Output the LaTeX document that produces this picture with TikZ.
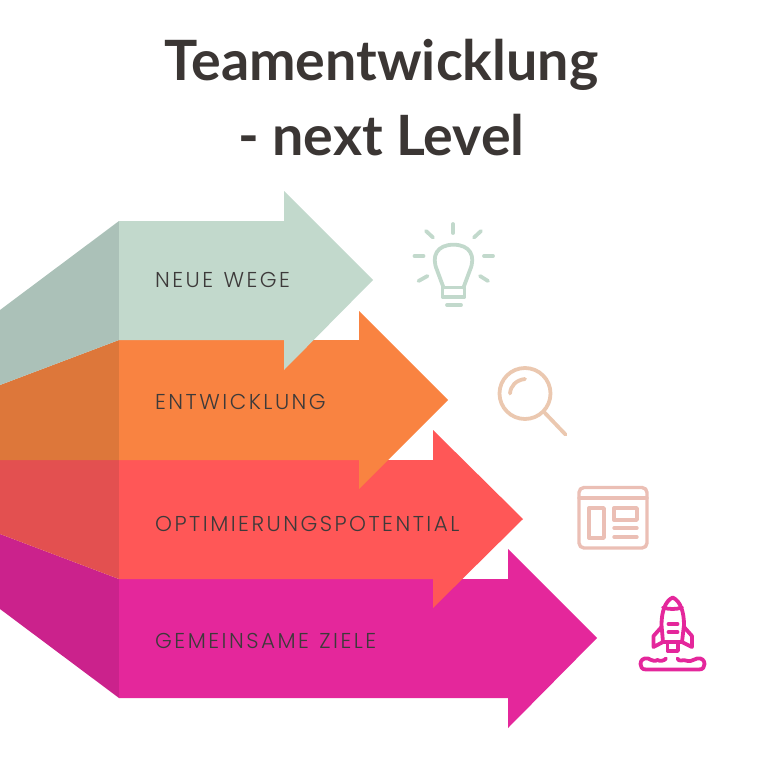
\documentclass[tikz,border=0pt]{standalone}
\usepackage{fontspec}
\setmainfont{Lato}
\newfontfamily\labelfont[LetterSpace=11.5,WordSpace=1.25]{Poppins Light}
\definecolor{ink}{HTML}{3B3634}
\definecolor{labelink}{HTML}{3D3A3A}
\definecolor{cGreen}{HTML}{C2D9CC}
\definecolor{cGreenD}{HTML}{ABC1B8}
\definecolor{cOrange}{HTML}{F98341}
\definecolor{cOrangeD}{HTML}{DD773A}
\definecolor{cRed}{HTML}{FF5757}
\definecolor{cRedD}{HTML}{E35050}
\definecolor{cPink}{HTML}{E4279B}
\definecolor{cPinkD}{HTML}{CB228C}
\definecolor{iPeach}{HTML}{EBC8B0}
\definecolor{iRose}{HTML}{EBBFB5}
\tikzset{
  titletext/.style={font=\fontsize{55.6}{60}\selectfont\bfseries, text=ink, inner sep=0pt, anchor=base},
  labeltext/.style={font=\fontsize{21.5}{24}\labelfont, text=labelink, inner sep=0pt, anchor=base west},
  icon/.style={line width=3.8pt, line cap=round, line join=round, fill=none},
}
\begin{document}
\begin{tikzpicture}[x=1pt,y=-1pt]
\useasboundingbox (0,0) rectangle (768,768);
% magenta
\fill[cPinkD] (119,579) -- (0,534) -- (0,609) -- (119,698) -- cycle;
\fill[cPink] (119,579) -- (508,579) -- (508,549) -- (597,638) -- (508,728) -- (508,698) -- (119,698) -- cycle;
% red
\fill[cRedD] (119,460) -- (0,460) -- (0,534) -- (119,579) -- cycle;
\fill[cRed] (119,460) -- (433,460) -- (433,430) -- (523,519) -- (433,608) -- (433,579) -- (119,579) -- cycle;
% orange
\fill[cOrangeD] (119,340) -- (0,385) -- (0,460) -- (119,460) -- cycle;
\fill[cOrange] (119,340) -- (359,340) -- (359,311) -- (448,400) -- (359,489) -- (359,460) -- (119,460) -- cycle;
% green
\fill[cGreenD] (119,221) -- (0,310) -- (0,385) -- (119,340) -- cycle;
\fill[cGreen] (119,221) -- (284,221) -- (284,191) -- (373,280) -- (284,370) -- (284,340) -- (119,340) -- cycle;
% title
\node[titletext] (title1) at (381.5,81) {Teamentwicklung};
\node[titletext] (title2) at (381.5,155) {- next Level};
% labels
\node[labeltext] (l1) at (155,287) {NEUE WEGE};
\node[labeltext] (l2) at (155,409) {ENTWICKLUNG};
\node[labeltext] (l3) at (155,531) {OPTIMIERUNGSPOTENTIAL};
\node[labeltext] (l4) at (155,648) {GEMEINSAME ZIELE};
% bulb
\begin{scope}[icon, draw=cGreen]
\draw (453,224) -- (453,233);
\draw (426,231) -- (433,237.5);
\draw (481,231) -- (474,237.5);
\draw (414.5,256) -- (423.5,256);
\draw (484,256) -- (493,256);
\draw (418.5,281) -- (427.5,276);
\draw (488,281) -- (480,276);
\draw (443.5,287.5) -- (437,270) .. controls (431,256) and (437,244.7) .. (453.5,244.7) .. controls (470,244.7) and (476,256) .. (470,270) -- (463.5,287.5);
\draw (442.5,287.5) -- (464.5,287.5) -- (464.5,297) -- (442.5,297) -- cycle;
\draw (447,305) -- (461,305);
\end{scope}
% magnifier
\begin{scope}[icon, draw=iPeach]
\draw (525,393.5) circle (25.5);
\draw (544,412) -- (565.5,434.5);
\draw (510,393.5) .. controls (510.5,386) and (516,380) .. (525,379);
\end{scope}
% window
\begin{scope}[icon, line width=3.4pt, draw=iRose]
\draw[rounded corners=5pt] (579,487.5) rectangle (647,548);
\draw (579,498) -- (647,498);
\draw (589,508) rectangle (604,538);
\draw (614,508) rectangle (637,520);
\draw (614,528) -- (637,528);
\draw (614,537) -- (637,537);
\end{scope}
% rocket
\begin{scope}[icon, draw=cPink]
\draw (663,642) -- (661.5,625) .. controls (661.5,612) and (665,601) .. (672.7,597.5) .. controls (680.5,601) and (684,612) .. (684,625) -- (682,642) -- cycle;
\draw (663,607.5) .. controls (669,609.5) and (676,609.5) .. (682,607.5);
\draw (668.5,624) -- (677.5,624);
\draw (668.5,632) -- (677.5,632);
\draw (667.5,642) -- (667.5,651) -- (678,651) -- (678,642);
\draw (661.5,627) -- (653.5,636) -- (653.5,647) -- (663,642);
\draw (684,627) -- (692,636) -- (692,647) -- (682,642);
\draw (666,658.5) .. controls (664,661) and (660,661.5) .. (657.5,660) .. controls (655,662) and (651,660) .. (648,658.5) .. controls (643,657.5) and (640.5,660.5) .. (640.5,664) .. controls (640.5,667) and (642,669.5) .. (646,669.5) -- (699,669.5) .. controls (703,669.5) and (704.5,667) .. (704.5,664) .. controls (704.5,660.5) and (702,657.5) .. (697,658.5) .. controls (694,659) and (692,661.5) .. (688,661) .. controls (685,660.5) and (683,659.5) .. (681,660.5) .. controls (679,661) and (678.5,660) .. (677.5,658.5);
\end{scope}
\end{tikzpicture}
\end{document}
